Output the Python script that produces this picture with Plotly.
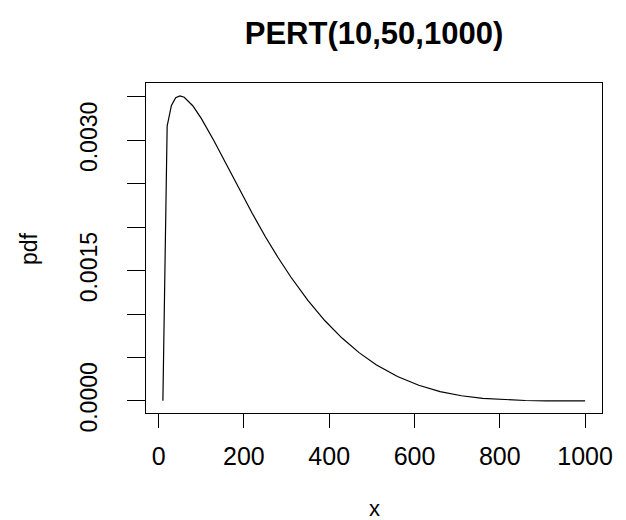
import plotly.graph_objects as go

# values (PERT(10,50,1000) density)
x_vals = [10, 20, 30, 40, 50, 60, 80, 100, 130, 160, 190, 220, 250, 280, 310,
          350, 390, 430, 470, 510, 560, 610, 660, 710, 760, 810, 860, 910, 960, 1000]
pdf_vals = [0.0, 0.003163, 0.003401, 0.003490, 0.003511, 0.003496, 0.003398,
            0.003253, 0.002993, 0.002711, 0.002429, 0.002154, 0.001893, 0.001650,
            0.001426, 0.001156, 0.000922, 0.000723, 0.000555, 0.000416, 0.000280,
            0.000179, 0.000107, 0.0000587, 0.0000287, 0.0000121, 0.0000038,
            0.0000007, 0.00000003, 0.0]

x_ticks = [0, 200, 400, 600, 800, 1000]
x_ticktext = ["0", "200", "400", "600", "800", "1000"]
y_ticks = [0.0, 0.0005, 0.0010, 0.0015, 0.0020, 0.0025, 0.0030, 0.0035]
y_ticktext = ["0.0000", "", "", "0.0015", "", "", "0.0030", ""]

title_text = "PERT(10,50,1000)"
x_label = "x"
y_label = "pdf"

FONT = "Liberation Sans, Arial, sans-serif"
OFF = 8  # page body offset
W, H = 626 - OFF, 520 - OFF

fig = go.Figure()
fig.add_trace(go.Scatter(x=x_vals, y=pdf_vals, mode="lines",
                         line=dict(color="black", width=1.2),
                         showlegend=False, hoverinfo="skip"))

fig.update_layout(
    width=W, height=H,
    margin=dict(l=146 - OFF, r=24, t=83 - OFF, b=107),
    paper_bgcolor="white", plot_bgcolor="white",
    font=dict(family=FONT, color="black"),
    title=dict(text="<b>" + title_text + "</b>", x=0.5, xref="paper",
               y=1 - (33 - OFF) / H, yref="container", xanchor="center", yanchor="middle",
               font=dict(size=31, family=FONT, color="black")),
)

fig.update_xaxes(
    range=[-29.6, 1039.6], showgrid=False, zeroline=False,
    showline=True, linecolor="black", linewidth=1, mirror=True,
    ticks="outside", ticklen=14, tickwidth=1, tickcolor="black",
    tickvals=x_ticks, ticktext=x_ticktext,
    tickfont=dict(size=25, family=FONT, color="black"),
    ticklabelstandoff=7,
)
fig.update_yaxes(
    range=[-0.00014, 0.00366], showgrid=False, zeroline=False,
    showline=True, linecolor="black", linewidth=1, mirror=True,
    ticks="outside", ticklen=18, tickwidth=1, tickcolor="black",
    tickvals=y_ticks, ticktext=y_ticktext, tickangle=-90,
    tickfont=dict(size=23, family=FONT, color="black"),
    ticklabelstandoff=21,
)

fig.add_annotation(text=x_label, xref="paper", yref="paper", x=0.5,
                   y=(413 - 508) / 330, xanchor="center", yanchor="middle",
                   showarrow=False, font=dict(size=22, family=FONT, color="black"))
fig.add_annotation(text=y_label, xref="paper", yref="paper",
                   x=(29 - 146) / 456, y=0.5, xanchor="center", yanchor="middle",
                   textangle=-90, showarrow=False,
                   font=dict(size=23, family=FONT, color="black"))

fig.write_html("out.html")
